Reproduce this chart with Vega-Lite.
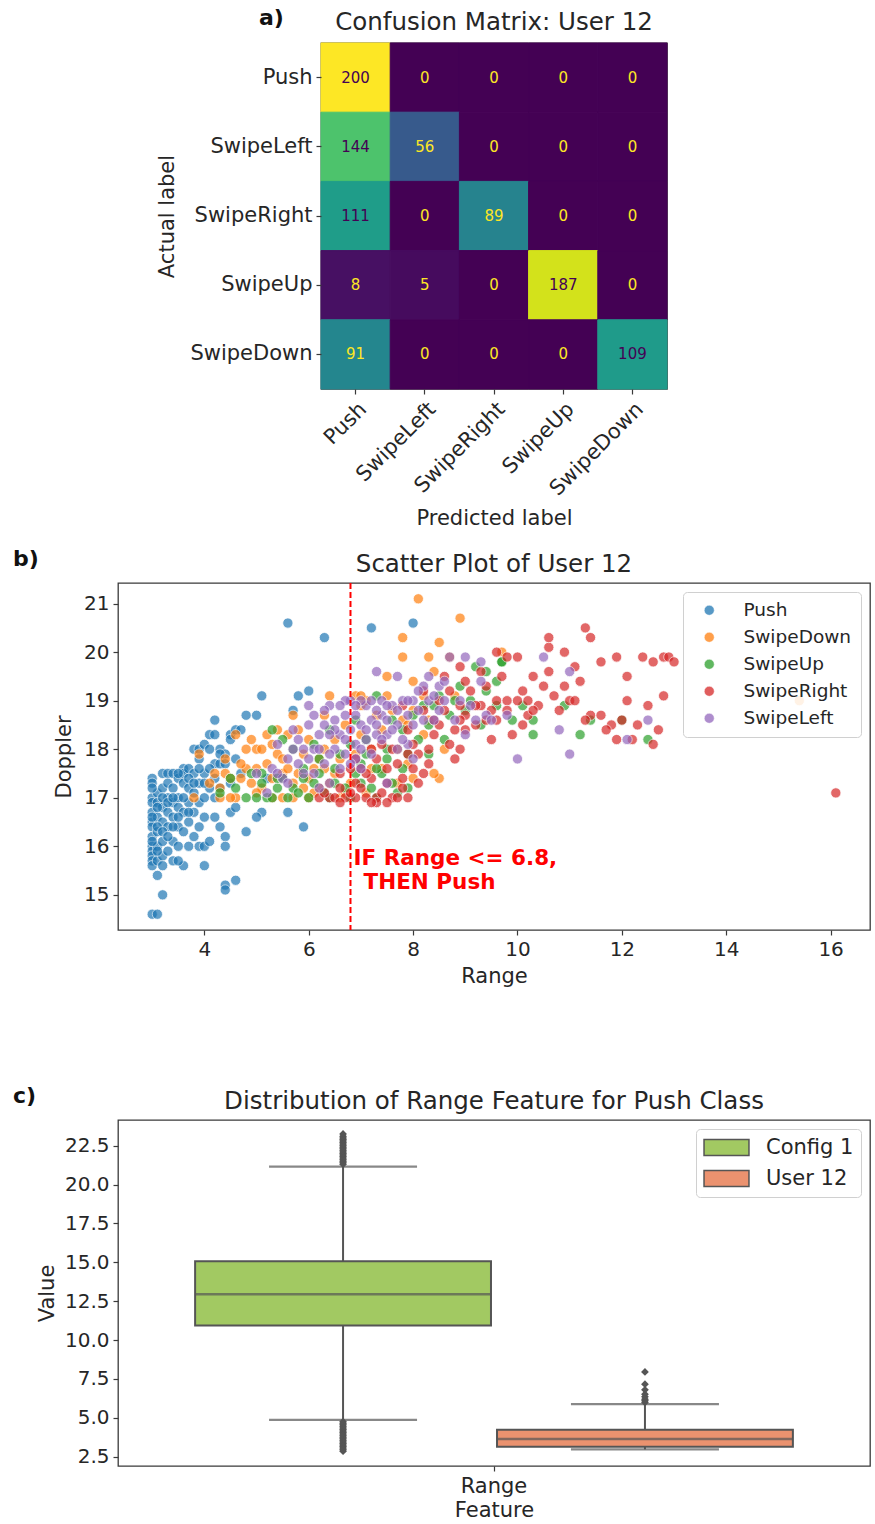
{
"$schema": "https://vega.github.io/schema/vega-lite/v6.json",
"padding": {"left": 12, "top": 6, "right": 5, "bottom": 0},
"config": {
  "font": "DejaVu Sans",
  "view": {"stroke": "#3a3a3a", "strokeWidth": 1.3},
  "axis": {"grid": false, "domain": false, "tickColor": "#3a3a3a", "tickSize": 5, "tickWidth": 1.2, "labelFontSize": 20, "labelColor": "#262626", "titleFontSize": 21, "titleFontWeight": "normal", "titleColor": "#262626", "labelPadding": 4},
  "legend": {"labelColor": "#262626"}
},
"resolve": {"scale": {"color": "independent"}, "legend": {"color": "independent"}},
"spacing": 97,
"vconcat": [
 {
  "spacing": 18,
  "resolve": {"scale": {"color": "independent"}, "legend": {"color": "independent"}},
  "vconcat": [
   {
    "spacing": 0,
    "hconcat": [
     {"width": 38, "height": 10, "view": {"stroke": null}, "data": {"values": [{}]}, "mark": {"type": "text", "text": ""}, "encoding": {}},
     {
      "width": 346, "height": 346,
      "data": {"values": [
        {"Actual": "Push", "Predicted": "Push", "Count": 200},
        {"Actual": "Push", "Predicted": "SwipeLeft", "Count": 0},
        {"Actual": "Push", "Predicted": "SwipeRight", "Count": 0},
        {"Actual": "Push", "Predicted": "SwipeUp", "Count": 0},
        {"Actual": "Push", "Predicted": "SwipeDown", "Count": 0},
        {"Actual": "SwipeLeft", "Predicted": "Push", "Count": 144},
        {"Actual": "SwipeLeft", "Predicted": "SwipeLeft", "Count": 56},
        {"Actual": "SwipeLeft", "Predicted": "SwipeRight", "Count": 0},
        {"Actual": "SwipeLeft", "Predicted": "SwipeUp", "Count": 0},
        {"Actual": "SwipeLeft", "Predicted": "SwipeDown", "Count": 0},
        {"Actual": "SwipeRight", "Predicted": "Push", "Count": 111},
        {"Actual": "SwipeRight", "Predicted": "SwipeLeft", "Count": 0},
        {"Actual": "SwipeRight", "Predicted": "SwipeRight", "Count": 89},
        {"Actual": "SwipeRight", "Predicted": "SwipeUp", "Count": 0},
        {"Actual": "SwipeRight", "Predicted": "SwipeDown", "Count": 0},
        {"Actual": "SwipeUp", "Predicted": "Push", "Count": 8},
        {"Actual": "SwipeUp", "Predicted": "SwipeLeft", "Count": 5},
        {"Actual": "SwipeUp", "Predicted": "SwipeRight", "Count": 0},
        {"Actual": "SwipeUp", "Predicted": "SwipeUp", "Count": 187},
        {"Actual": "SwipeUp", "Predicted": "SwipeDown", "Count": 0},
        {"Actual": "SwipeDown", "Predicted": "Push", "Count": 91},
        {"Actual": "SwipeDown", "Predicted": "SwipeLeft", "Count": 0},
        {"Actual": "SwipeDown", "Predicted": "SwipeRight", "Count": 0},
        {"Actual": "SwipeDown", "Predicted": "SwipeUp", "Count": 0},
        {"Actual": "SwipeDown", "Predicted": "SwipeDown", "Count": 109}
      ]},
      "encoding": {
        "x": {"field": "Predicted", "type": "nominal", "sort": ["Push", "SwipeLeft", "SwipeRight", "SwipeUp", "SwipeDown"], "title": "Predicted label", "axis": {"labelAngle": -45, "labelFontSize": 21, "titlePadding": 8}},
        "y": {"field": "Actual", "type": "nominal", "sort": ["Push", "SwipeLeft", "SwipeRight", "SwipeUp", "SwipeDown"], "title": "Actual label", "axis": {"labelFontSize": 21, "titlePadding": 12}}
      },
      "layer": [
        {"mark": {"type": "rect", "strokeWidth": 1}, "encoding": {
          "color": {"field": "Count", "type": "quantitative", "scale": {"scheme": "viridis", "domain": [0, 200]}, "legend": null},
          "stroke": {"field": "Count", "type": "quantitative", "scale": {"scheme": "viridis", "domain": [0, 200]}, "legend": null}}},
        {"mark": {"type": "text", "fontSize": 15}, "encoding": {"text": {"field": "Count", "type": "quantitative"}, "color": {"condition": {"test": "datum.Count > 100", "value": "#440154"}, "value": "#fde725"}}},
        {"data": {"values": [{}]}, "mark": {"type": "text", "text": "a)", "fontSize": 22, "fontWeight": "bold", "align": "left", "baseline": "middle", "dx": -96.6, "dy": -59.6, "color": "#111"}, "encoding": {"x": {"datum": "Push"}, "y": {"datum": "Push"}}},
        {"data": {"values": [{}]}, "mark": {"type": "text", "text": "Confusion Matrix: User 12", "fontSize": 24.5, "align": "center", "baseline": "middle", "dy": -54.6, "color": "#262626"}, "encoding": {"x": {"datum": "SwipeRight"}, "y": {"datum": "Push"}}}
      ]
     }
    ]
   },
   {
    "width": 752, "height": 347,
    "layer": [
     {
      "data": {"values": [
{"Range":5.6,"Doppler":20.6,"Gesture":"Push"},{"Range":6.3,"Doppler":20.3,"Gesture":"Push"},{"Range":7.2,"Doppler":20.5,"Gesture":"Push"},{"Range":8.0,"Doppler":20.6,"Gesture":"Push"},
{"Range":5.1,"Doppler":19.1,"Gesture":"Push"},{"Range":5.8,"Doppler":19.1,"Gesture":"Push"},{"Range":6.0,"Doppler":19.2,"Gesture":"Push"},{"Range":5.7,"Doppler":18.8,"Gesture":"Push"},
{"Range":4.8,"Doppler":18.7,"Gesture":"Push"},{"Range":5.0,"Doppler":18.7,"Gesture":"Push"},{"Range":4.2,"Doppler":18.6,"Gesture":"Push"},{"Range":5.6,"Doppler":16.7,"Gesture":"Push"},
{"Range":5.9,"Doppler":16.4,"Gesture":"Push"},{"Range":5.1,"Doppler":16.7,"Gesture":"Push"},{"Range":5.0,"Doppler":16.6,"Gesture":"Push"},{"Range":4.8,"Doppler":16.3,"Gesture":"Push"},
{"Range":4.6,"Doppler":15.3,"Gesture":"Push"},{"Range":4.4,"Doppler":15.2,"Gesture":"Push"},{"Range":4.4,"Doppler":15.1,"Gesture":"Push"},{"Range":3.2,"Doppler":15.0,"Gesture":"Push"},
{"Range":3.1,"Doppler":15.4,"Gesture":"Push"},{"Range":3.0,"Doppler":14.6,"Gesture":"Push"},{"Range":3.1,"Doppler":14.6,"Gesture":"Push"},
{"Range":3.0,"Doppler":17.4,"Gesture":"Push"},{"Range":3.0,"Doppler":17.3,"Gesture":"Push"},{"Range":3.0,"Doppler":17.0,"Gesture":"Push"},{"Range":3.0,"Doppler":16.9,"Gesture":"Push"},
{"Range":3.0,"Doppler":16.7,"Gesture":"Push"},{"Range":3.0,"Doppler":16.5,"Gesture":"Push"},{"Range":3.0,"Doppler":16.4,"Gesture":"Push"},{"Range":3.0,"Doppler":16.2,"Gesture":"Push"},
{"Range":3.0,"Doppler":16.0,"Gesture":"Push"},{"Range":3.0,"Doppler":15.9,"Gesture":"Push"},{"Range":3.0,"Doppler":15.8,"Gesture":"Push"},{"Range":3.0,"Doppler":15.7,"Gesture":"Push"},
{"Range":3.0,"Doppler":15.6,"Gesture":"Push"},
{"Range":3.1,"Doppler":17.1,"Gesture":"Push"},{"Range":3.1,"Doppler":16.9,"Gesture":"Push"},{"Range":3.1,"Doppler":16.6,"Gesture":"Push"},{"Range":3.1,"Doppler":16.3,"Gesture":"Push"},
{"Range":3.1,"Doppler":16.0,"Gesture":"Push"},{"Range":3.1,"Doppler":15.7,"Gesture":"Push"},
{"Range":3.2,"Doppler":17.5,"Gesture":"Push"},{"Range":3.2,"Doppler":17.2,"Gesture":"Push"},{"Range":3.2,"Doppler":16.8,"Gesture":"Push"},{"Range":3.2,"Doppler":16.5,"Gesture":"Push"},
{"Range":3.2,"Doppler":16.1,"Gesture":"Push"},{"Range":3.2,"Doppler":15.8,"Gesture":"Push"},{"Range":3.2,"Doppler":15.6,"Gesture":"Push"},
{"Range":3.3,"Doppler":17.5,"Gesture":"Push"},{"Range":3.3,"Doppler":17.3,"Gesture":"Push"},{"Range":3.3,"Doppler":17.0,"Gesture":"Push"},{"Range":3.3,"Doppler":16.7,"Gesture":"Push"},
{"Range":3.3,"Doppler":16.4,"Gesture":"Push"},
{"Range":3.4,"Doppler":17.5,"Gesture":"Push"},{"Range":3.4,"Doppler":17.2,"Gesture":"Push"},{"Range":3.4,"Doppler":16.9,"Gesture":"Push"},{"Range":3.4,"Doppler":16.6,"Gesture":"Push"},
{"Range":3.4,"Doppler":16.1,"Gesture":"Push"},{"Range":3.4,"Doppler":15.7,"Gesture":"Push"},
{"Range":3.5,"Doppler":17.4,"Gesture":"Push"},{"Range":3.5,"Doppler":17.0,"Gesture":"Push"},{"Range":3.5,"Doppler":16.8,"Gesture":"Push"},{"Range":3.5,"Doppler":16.4,"Gesture":"Push"},
{"Range":3.5,"Doppler":16.0,"Gesture":"Push"},
{"Range":3.6,"Doppler":17.6,"Gesture":"Push"},{"Range":3.6,"Doppler":17.5,"Gesture":"Push"},{"Range":3.6,"Doppler":17.3,"Gesture":"Push"},{"Range":3.6,"Doppler":16.7,"Gesture":"Push"},
{"Range":3.6,"Doppler":16.3,"Gesture":"Push"},{"Range":3.6,"Doppler":15.6,"Gesture":"Push"},
{"Range":3.7,"Doppler":17.6,"Gesture":"Push"},{"Range":3.7,"Doppler":17.2,"Gesture":"Push"},{"Range":3.7,"Doppler":16.9,"Gesture":"Push"},{"Range":3.7,"Doppler":16.5,"Gesture":"Push"},
{"Range":3.7,"Doppler":16.0,"Gesture":"Push"},
{"Range":3.8,"Doppler":18.0,"Gesture":"Push"},{"Range":3.8,"Doppler":17.5,"Gesture":"Push"},{"Range":3.8,"Doppler":17.1,"Gesture":"Push"},{"Range":3.8,"Doppler":16.7,"Gesture":"Push"},
{"Range":3.8,"Doppler":16.2,"Gesture":"Push"},
{"Range":3.9,"Doppler":18.0,"Gesture":"Push"},{"Range":3.9,"Doppler":17.8,"Gesture":"Push"},{"Range":3.9,"Doppler":17.3,"Gesture":"Push"},{"Range":3.9,"Doppler":16.9,"Gesture":"Push"},
{"Range":3.9,"Doppler":16.4,"Gesture":"Push"},{"Range":3.9,"Doppler":16.0,"Gesture":"Push"},
{"Range":4.0,"Doppler":18.1,"Gesture":"Push"},{"Range":4.0,"Doppler":17.5,"Gesture":"Push"},{"Range":4.0,"Doppler":17.0,"Gesture":"Push"},{"Range":4.0,"Doppler":16.6,"Gesture":"Push"},
{"Range":4.0,"Doppler":16.0,"Gesture":"Push"},{"Range":4.0,"Doppler":15.6,"Gesture":"Push"},
{"Range":4.1,"Doppler":18.3,"Gesture":"Push"},{"Range":4.1,"Doppler":18.0,"Gesture":"Push"},{"Range":4.1,"Doppler":17.2,"Gesture":"Push"},{"Range":4.1,"Doppler":16.1,"Gesture":"Push"},
{"Range":4.2,"Doppler":18.3,"Gesture":"Push"},{"Range":4.2,"Doppler":17.7,"Gesture":"Push"},{"Range":4.2,"Doppler":17.0,"Gesture":"Push"},{"Range":4.2,"Doppler":16.6,"Gesture":"Push"},
{"Range":4.3,"Doppler":18.0,"Gesture":"Push"},{"Range":4.3,"Doppler":17.7,"Gesture":"Push"},{"Range":4.3,"Doppler":17.2,"Gesture":"Push"},{"Range":4.3,"Doppler":16.4,"Gesture":"Push"},
{"Range":4.4,"Doppler":17.9,"Gesture":"Push"},{"Range":4.4,"Doppler":17.7,"Gesture":"Push"},{"Range":4.4,"Doppler":16.2,"Gesture":"Push"},{"Range":4.4,"Doppler":16.0,"Gesture":"Push"},
{"Range":4.5,"Doppler":18.3,"Gesture":"Push"},{"Range":4.5,"Doppler":18.2,"Gesture":"Push"},{"Range":4.5,"Doppler":16.7,"Gesture":"Push"},{"Range":4.5,"Doppler":17.3,"Gesture":"Push"},
{"Range":4.6,"Doppler":18.4,"Gesture":"Push"},{"Range":4.6,"Doppler":17.8,"Gesture":"Push"},{"Range":4.6,"Doppler":16.8,"Gesture":"Push"},
{"Range":4.7,"Doppler":18.4,"Gesture":"Push"},{"Range":4.7,"Doppler":17.5,"Gesture":"Push"},{"Range":5.2,"Doppler":17.4,"Gesture":"Push"},
{"Range":3.0,"Doppler":17.2,"Gesture":"Push"},{"Range":3.0,"Doppler":16.6,"Gesture":"Push"},{"Range":3.0,"Doppler":16.1,"Gesture":"Push"},{"Range":3.1,"Doppler":16.8,"Gesture":"Push"},
{"Range":3.1,"Doppler":16.4,"Gesture":"Push"},{"Range":3.1,"Doppler":15.9,"Gesture":"Push"},{"Range":3.2,"Doppler":17.0,"Gesture":"Push"},{"Range":3.2,"Doppler":16.3,"Gesture":"Push"},
{"Range":3.3,"Doppler":16.9,"Gesture":"Push"},{"Range":3.3,"Doppler":16.2,"Gesture":"Push"},{"Range":3.4,"Doppler":17.0,"Gesture":"Push"},{"Range":3.4,"Doppler":16.4,"Gesture":"Push"},
{"Range":3.5,"Doppler":17.5,"Gesture":"Push"},{"Range":3.5,"Doppler":16.6,"Gesture":"Push"},{"Range":3.6,"Doppler":17.0,"Gesture":"Push"},{"Range":3.7,"Doppler":17.4,"Gesture":"Push"},
{"Range":3.7,"Doppler":16.7,"Gesture":"Push"},{"Range":3.8,"Doppler":17.3,"Gesture":"Push"},{"Range":3.9,"Doppler":17.6,"Gesture":"Push"},{"Range":4.0,"Doppler":17.3,"Gesture":"Push"},
{"Range":4.1,"Doppler":17.6,"Gesture":"Push"},{"Range":4.2,"Doppler":17.4,"Gesture":"Push"},{"Range":4.3,"Doppler":17.9,"Gesture":"Push"},{"Range":3.3,"Doppler":15.9,"Gesture":"Push"},
{"Range":3.5,"Doppler":15.7,"Gesture":"Push"},
{"Range":8.1,"Doppler":21.1,"Gesture":"SwipeDown"},{"Range":8.9,"Doppler":20.7,"Gesture":"SwipeDown"},{"Range":7.8,"Doppler":20.3,"Gesture":"SwipeDown"},{"Range":8.5,"Doppler":20.2,"Gesture":"SwipeDown"},
{"Range":7.8,"Doppler":19.9,"Gesture":"SwipeDown"},{"Range":8.3,"Doppler":19.9,"Gesture":"SwipeDown"},{"Range":8.7,"Doppler":19.9,"Gesture":"SwipeDown"},{"Range":9.7,"Doppler":20.0,"Gesture":"SwipeDown"},
{"Range":8.0,"Doppler":19.4,"Gesture":"SwipeDown"},{"Range":8.4,"Doppler":19.6,"Gesture":"SwipeDown"},{"Range":7.5,"Doppler":19.5,"Gesture":"SwipeDown"},{"Range":8.6,"Doppler":18.0,"Gesture":"SwipeDown"},
{"Range":8.5,"Doppler":17.4,"Gesture":"SwipeDown"},{"Range":8.0,"Doppler":17.4,"Gesture":"SwipeDown"},{"Range":3.8,"Doppler":17.0,"Gesture":"SwipeDown"},{"Range":4.3,"Doppler":17.0,"Gesture":"SwipeDown"},
{"Range":4.6,"Doppler":17.0,"Gesture":"SwipeDown"},{"Range":3.9,"Doppler":17.9,"Gesture":"SwipeDown"},{"Range":4.6,"Doppler":18.3,"Gesture":"SwipeDown"},{"Range":15.4,"Doppler":19.0,"Gesture":"SwipeDown"},
{"Range":6.4,"Doppler":19.1,"Gesture":"SwipeDown"},{"Range":6.9,"Doppler":19.1,"Gesture":"SwipeDown"},{"Range":7.5,"Doppler":19.1,"Gesture":"SwipeDown"},{"Range":7.0,"Doppler":18.9,"Gesture":"SwipeDown"},
{"Range":7.8,"Doppler":18.6,"Gesture":"SwipeDown"},{"Range":7.2,"Doppler":18.0,"Gesture":"SwipeDown"},{"Range":6.3,"Doppler":17.6,"Gesture":"SwipeDown"},{"Range":6.5,"Doppler":17.5,"Gesture":"SwipeDown"},
{"Range":5.0,"Doppler":18.0,"Gesture":"SwipeDown"},{"Range":5.1,"Doppler":18.0,"Gesture":"SwipeDown"},{"Range":5.3,"Doppler":18.1,"Gesture":"SwipeDown"},{"Range":5.4,"Doppler":17.9,"Gesture":"SwipeDown"},
{"Range":5.2,"Doppler":17.7,"Gesture":"SwipeDown"},{"Range":5.5,"Doppler":17.8,"Gesture":"SwipeDown"},{"Range":5.6,"Doppler":18.3,"Gesture":"SwipeDown"},{"Range":5.8,"Doppler":18.4,"Gesture":"SwipeDown"},
{"Range":6.0,"Doppler":18.2,"Gesture":"SwipeDown"},{"Range":5.9,"Doppler":17.9,"Gesture":"SwipeDown"},{"Range":4.4,"Doppler":17.5,"Gesture":"SwipeDown"},{"Range":4.5,"Doppler":17.4,"Gesture":"SwipeDown"},
{"Range":4.7,"Doppler":17.4,"Gesture":"SwipeDown"},{"Range":4.9,"Doppler":17.3,"Gesture":"SwipeDown"},{"Range":5.1,"Doppler":17.2,"Gesture":"SwipeDown"},{"Range":5.3,"Doppler":17.4,"Gesture":"SwipeDown"},
{"Range":4.8,"Doppler":17.6,"Gesture":"SwipeDown"},{"Range":4.3,"Doppler":17.2,"Gesture":"SwipeDown"},{"Range":4.1,"Doppler":17.3,"Gesture":"SwipeDown"},{"Range":5.5,"Doppler":17.0,"Gesture":"SwipeDown"},
{"Range":5.7,"Doppler":17.0,"Gesture":"SwipeDown"},{"Range":6.0,"Doppler":17.0,"Gesture":"SwipeDown"},{"Range":6.2,"Doppler":17.2,"Gesture":"SwipeDown"},{"Range":6.4,"Doppler":17.3,"Gesture":"SwipeDown"},
{"Range":6.6,"Doppler":17.0,"Gesture":"SwipeDown"},{"Range":6.8,"Doppler":17.3,"Gesture":"SwipeDown"},{"Range":5.8,"Doppler":17.5,"Gesture":"SwipeDown"},{"Range":6.1,"Doppler":17.6,"Gesture":"SwipeDown"},
{"Range":6.6,"Doppler":17.8,"Gesture":"SwipeDown"},{"Range":7.0,"Doppler":18.3,"Gesture":"SwipeDown"},{"Range":7.3,"Doppler":18.7,"Gesture":"SwipeDown"},{"Range":7.6,"Doppler":18.8,"Gesture":"SwipeDown"},
{"Range":7.9,"Doppler":18.5,"Gesture":"SwipeDown"},{"Range":8.2,"Doppler":18.3,"Gesture":"SwipeDown"},{"Range":7.4,"Doppler":17.6,"Gesture":"SwipeDown"},{"Range":7.7,"Doppler":17.3,"Gesture":"SwipeDown"},
{"Range":7.1,"Doppler":17.1,"Gesture":"SwipeDown"},{"Range":4.9,"Doppler":18.2,"Gesture":"SwipeDown"},{"Range":5.7,"Doppler":18.7,"Gesture":"SwipeDown"},{"Range":6.3,"Doppler":18.7,"Gesture":"SwipeDown"},
{"Range":7.1,"Doppler":19.0,"Gesture":"SwipeDown"},{"Range":8.2,"Doppler":19.1,"Gesture":"SwipeDown"},{"Range":7.0,"Doppler":19.1,"Gesture":"SwipeDown"},
{"Range":4.2,"Doppler":17.5,"Gesture":"SwipeDown"},{"Range":4.4,"Doppler":17.8,"Gesture":"SwipeDown"},{"Range":4.5,"Doppler":17.0,"Gesture":"SwipeDown"},{"Range":4.7,"Doppler":17.7,"Gesture":"SwipeDown"},
{"Range":4.8,"Doppler":18.0,"Gesture":"SwipeDown"},{"Range":5.0,"Doppler":17.6,"Gesture":"SwipeDown"},{"Range":5.2,"Doppler":18.3,"Gesture":"SwipeDown"},{"Range":5.4,"Doppler":18.4,"Gesture":"SwipeDown"},
{"Range":5.5,"Doppler":17.5,"Gesture":"SwipeDown"},{"Range":5.6,"Doppler":17.6,"Gesture":"SwipeDown"},{"Range":5.7,"Doppler":17.3,"Gesture":"SwipeDown"},{"Range":5.9,"Doppler":17.2,"Gesture":"SwipeDown"},
{"Range":6.0,"Doppler":17.4,"Gesture":"SwipeDown"},{"Range":6.1,"Doppler":17.1,"Gesture":"SwipeDown"},{"Range":6.2,"Doppler":17.8,"Gesture":"SwipeDown"},{"Range":6.3,"Doppler":18.0,"Gesture":"SwipeDown"},
{"Range":6.5,"Doppler":18.2,"Gesture":"SwipeDown"},{"Range":6.7,"Doppler":18.5,"Gesture":"SwipeDown"},{"Range":6.9,"Doppler":17.9,"Gesture":"SwipeDown"},{"Range":7.2,"Doppler":17.6,"Gesture":"SwipeDown"},
{"Range":7.4,"Doppler":18.4,"Gesture":"SwipeDown"},{"Range":7.7,"Doppler":18.0,"Gesture":"SwipeDown"},{"Range":8.0,"Doppler":18.8,"Gesture":"SwipeDown"},{"Range":8.3,"Doppler":18.6,"Gesture":"SwipeDown"},
{"Range":8.4,"Doppler":17.5,"Gesture":"SwipeDown"},{"Range":5.3,"Doppler":17.0,"Gesture":"SwipeDown"},{"Range":5.0,"Doppler":17.1,"Gesture":"SwipeDown"},{"Range":6.7,"Doppler":17.1,"Gesture":"SwipeDown"},
{"Range":7.9,"Doppler":17.7,"Gesture":"SwipeDown"},{"Range":8.8,"Doppler":19.1,"Gesture":"SwipeDown"},
{"Range":4.5,"Doppler":17.4,"Gesture":"SwipeUp"},{"Range":4.3,"Doppler":17.1,"Gesture":"SwipeUp"},{"Range":4.9,"Doppler":17.5,"Gesture":"SwipeUp"},{"Range":5.0,"Doppler":17.0,"Gesture":"SwipeUp"},
{"Range":5.2,"Doppler":17.0,"Gesture":"SwipeUp"},{"Range":5.4,"Doppler":17.2,"Gesture":"SwipeUp"},{"Range":5.6,"Doppler":17.0,"Gesture":"SwipeUp"},{"Range":5.7,"Doppler":17.2,"Gesture":"SwipeUp"},
{"Range":5.4,"Doppler":17.4,"Gesture":"SwipeUp"},{"Range":5.1,"Doppler":17.5,"Gesture":"SwipeUp"},{"Range":5.3,"Doppler":18.4,"Gesture":"SwipeUp"},{"Range":5.5,"Doppler":18.2,"Gesture":"SwipeUp"},
{"Range":5.9,"Doppler":17.6,"Gesture":"SwipeUp"},{"Range":6.1,"Doppler":17.3,"Gesture":"SwipeUp"},{"Range":6.3,"Doppler":17.1,"Gesture":"SwipeUp"},{"Range":6.5,"Doppler":17.3,"Gesture":"SwipeUp"},
{"Range":6.7,"Doppler":17.2,"Gesture":"SwipeUp"},{"Range":6.2,"Doppler":17.8,"Gesture":"SwipeUp"},{"Range":6.6,"Doppler":17.9,"Gesture":"SwipeUp"},{"Range":6.9,"Doppler":17.5,"Gesture":"SwipeUp"},
{"Range":7.0,"Doppler":17.7,"Gesture":"SwipeUp"},{"Range":7.2,"Doppler":17.2,"Gesture":"SwipeUp"},{"Range":7.3,"Doppler":17.0,"Gesture":"SwipeUp"},{"Range":7.4,"Doppler":17.5,"Gesture":"SwipeUp"},
{"Range":7.6,"Doppler":17.3,"Gesture":"SwipeUp"},{"Range":7.8,"Doppler":17.6,"Gesture":"SwipeUp"},{"Range":7.9,"Doppler":17.2,"Gesture":"SwipeUp"},{"Range":7.1,"Doppler":18.2,"Gesture":"SwipeUp"},
{"Range":7.5,"Doppler":18.0,"Gesture":"SwipeUp"},{"Range":7.8,"Doppler":18.4,"Gesture":"SwipeUp"},{"Range":8.0,"Doppler":18.7,"Gesture":"SwipeUp"},{"Range":8.2,"Doppler":18.9,"Gesture":"SwipeUp"},
{"Range":8.5,"Doppler":19.1,"Gesture":"SwipeUp"},{"Range":8.8,"Doppler":19.0,"Gesture":"SwipeUp"},{"Range":8.9,"Doppler":19.3,"Gesture":"SwipeUp"},{"Range":9.2,"Doppler":19.7,"Gesture":"SwipeUp"},
{"Range":9.4,"Doppler":19.6,"Gesture":"SwipeUp"},{"Range":9.7,"Doppler":19.8,"Gesture":"SwipeUp"},{"Range":9.0,"Doppler":18.8,"Gesture":"SwipeUp"},{"Range":9.6,"Doppler":18.9,"Gesture":"SwipeUp"},
{"Range":10.1,"Doppler":18.9,"Gesture":"SwipeUp"},{"Range":10.3,"Doppler":18.6,"Gesture":"SwipeUp"},{"Range":10.3,"Doppler":18.3,"Gesture":"SwipeUp"},{"Range":10.9,"Doppler":18.9,"Gesture":"SwipeUp"},
{"Range":11.2,"Doppler":18.3,"Gesture":"SwipeUp"},{"Range":11.4,"Doppler":18.6,"Gesture":"SwipeUp"},{"Range":12.5,"Doppler":18.2,"Gesture":"SwipeUp"},{"Range":12.0,"Doppler":18.6,"Gesture":"SwipeUp"},
{"Range":7.3,"Doppler":19.1,"Gesture":"SwipeUp"},{"Range":6.9,"Doppler":18.6,"Gesture":"SwipeUp"},{"Range":8.6,"Doppler":18.2,"Gesture":"SwipeUp"},{"Range":9.3,"Doppler":18.5,"Gesture":"SwipeUp"},
{"Range":8.3,"Doppler":17.9,"Gesture":"SwipeUp"},{"Range":6.4,"Doppler":18.4,"Gesture":"SwipeUp"},{"Range":9.7,"Doppler":19.8,"Gesture":"SwipeUp"},
{"Range":4.6,"Doppler":17.2,"Gesture":"SwipeUp"},{"Range":4.8,"Doppler":17.0,"Gesture":"SwipeUp"},{"Range":5.1,"Doppler":17.3,"Gesture":"SwipeUp"},{"Range":5.3,"Doppler":17.0,"Gesture":"SwipeUp"},
{"Range":5.5,"Doppler":17.4,"Gesture":"SwipeUp"},{"Range":5.8,"Doppler":17.1,"Gesture":"SwipeUp"},{"Range":5.9,"Doppler":17.4,"Gesture":"SwipeUp"},{"Range":6.0,"Doppler":17.0,"Gesture":"SwipeUp"},
{"Range":6.2,"Doppler":17.5,"Gesture":"SwipeUp"},{"Range":6.4,"Doppler":17.0,"Gesture":"SwipeUp"},{"Range":6.5,"Doppler":17.6,"Gesture":"SwipeUp"},{"Range":6.8,"Doppler":17.0,"Gesture":"SwipeUp"},
{"Range":7.0,"Doppler":17.3,"Gesture":"SwipeUp"},{"Range":7.1,"Doppler":17.9,"Gesture":"SwipeUp"},{"Range":7.3,"Doppler":17.6,"Gesture":"SwipeUp"},{"Range":7.5,"Doppler":17.8,"Gesture":"SwipeUp"},
{"Range":7.7,"Doppler":17.1,"Gesture":"SwipeUp"},{"Range":7.9,"Doppler":17.9,"Gesture":"SwipeUp"},{"Range":8.1,"Doppler":18.2,"Gesture":"SwipeUp"},{"Range":8.3,"Doppler":18.5,"Gesture":"SwipeUp"},
{"Range":8.4,"Doppler":18.9,"Gesture":"SwipeUp"},{"Range":8.7,"Doppler":18.7,"Gesture":"SwipeUp"},{"Range":9.1,"Doppler":19.0,"Gesture":"SwipeUp"},{"Range":9.4,"Doppler":19.2,"Gesture":"SwipeUp"},
{"Range":9.6,"Doppler":19.4,"Gesture":"SwipeUp"},{"Range":9.9,"Doppler":18.6,"Gesture":"SwipeUp"},{"Range":7.6,"Doppler":18.6,"Gesture":"SwipeUp"},{"Range":6.8,"Doppler":18.1,"Gesture":"SwipeUp"},
{"Range":5.7,"Doppler":18.0,"Gesture":"SwipeUp"},{"Range":6.1,"Doppler":18.1,"Gesture":"SwipeUp"},
{"Range":6.2,"Doppler":17.0,"Gesture":"SwipeRight"},{"Range":6.4,"Doppler":17.0,"Gesture":"SwipeRight"},{"Range":6.5,"Doppler":17.0,"Gesture":"SwipeRight"},{"Range":6.7,"Doppler":17.0,"Gesture":"SwipeRight"},
{"Range":6.9,"Doppler":17.0,"Gesture":"SwipeRight"},{"Range":7.1,"Doppler":17.0,"Gesture":"SwipeRight"},{"Range":7.3,"Doppler":17.0,"Gesture":"SwipeRight"},{"Range":7.6,"Doppler":17.0,"Gesture":"SwipeRight"},
{"Range":7.9,"Doppler":17.0,"Gesture":"SwipeRight"},{"Range":7.3,"Doppler":16.9,"Gesture":"SwipeRight"},{"Range":6.6,"Doppler":17.2,"Gesture":"SwipeRight"},{"Range":6.9,"Doppler":17.3,"Gesture":"SwipeRight"},
{"Range":7.2,"Doppler":17.4,"Gesture":"SwipeRight"},{"Range":7.5,"Doppler":17.3,"Gesture":"SwipeRight"},{"Range":7.8,"Doppler":17.2,"Gesture":"SwipeRight"},{"Range":8.1,"Doppler":17.3,"Gesture":"SwipeRight"},
{"Range":8.3,"Doppler":17.7,"Gesture":"SwipeRight"},{"Range":8.1,"Doppler":17.9,"Gesture":"SwipeRight"},{"Range":7.7,"Doppler":17.7,"Gesture":"SwipeRight"},{"Range":7.3,"Doppler":17.8,"Gesture":"SwipeRight"},
{"Range":7.0,"Doppler":17.6,"Gesture":"SwipeRight"},{"Range":7.5,"Doppler":17.6,"Gesture":"SwipeRight"},{"Range":8.4,"Doppler":18.3,"Gesture":"SwipeRight"},{"Range":8.0,"Doppler":18.1,"Gesture":"SwipeRight"},
{"Range":8.6,"Doppler":18.8,"Gesture":"SwipeRight"},{"Range":8.8,"Doppler":18.4,"Gesture":"SwipeRight"},{"Range":8.9,"Doppler":18.0,"Gesture":"SwipeRight"},{"Range":9.0,"Doppler":18.7,"Gesture":"SwipeRight"},
{"Range":9.2,"Doppler":18.5,"Gesture":"SwipeRight"},{"Range":9.3,"Doppler":18.9,"Gesture":"SwipeRight"},{"Range":9.5,"Doppler":18.8,"Gesture":"SwipeRight"},{"Range":9.1,"Doppler":19.2,"Gesture":"SwipeRight"},
{"Range":9.4,"Doppler":19.3,"Gesture":"SwipeRight"},{"Range":9.6,"Doppler":19.0,"Gesture":"SwipeRight"},{"Range":9.8,"Doppler":19.0,"Gesture":"SwipeRight"},{"Range":10.0,"Doppler":19.0,"Gesture":"SwipeRight"},
{"Range":10.2,"Doppler":18.7,"Gesture":"SwipeRight"},{"Range":10.4,"Doppler":18.9,"Gesture":"SwipeRight"},{"Range":10.5,"Doppler":19.3,"Gesture":"SwipeRight"},{"Range":10.7,"Doppler":19.1,"Gesture":"SwipeRight"},
{"Range":10.8,"Doppler":18.8,"Gesture":"SwipeRight"},{"Range":11.0,"Doppler":19.0,"Gesture":"SwipeRight"},{"Range":11.2,"Doppler":19.4,"Gesture":"SwipeRight"},{"Range":11.4,"Doppler":18.7,"Gesture":"SwipeRight"},
{"Range":11.6,"Doppler":18.7,"Gesture":"SwipeRight"},{"Range":11.8,"Doppler":18.5,"Gesture":"SwipeRight"},{"Range":10.0,"Doppler":19.9,"Gesture":"SwipeRight"},{"Range":10.6,"Doppler":20.1,"Gesture":"SwipeRight"},
{"Range":11.1,"Doppler":19.7,"Gesture":"SwipeRight"},{"Range":11.3,"Doppler":20.5,"Gesture":"SwipeRight"},{"Range":10.3,"Doppler":19.5,"Gesture":"SwipeRight"},{"Range":10.9,"Doppler":20.0,"Gesture":"SwipeRight"},
{"Range":11.6,"Doppler":19.8,"Gesture":"SwipeRight"},{"Range":11.9,"Doppler":19.9,"Gesture":"SwipeRight"},{"Range":12.1,"Doppler":19.5,"Gesture":"SwipeRight"},{"Range":12.1,"Doppler":19.0,"Gesture":"SwipeRight"},
{"Range":12.4,"Doppler":19.9,"Gesture":"SwipeRight"},{"Range":12.6,"Doppler":19.8,"Gesture":"SwipeRight"},{"Range":12.8,"Doppler":19.9,"Gesture":"SwipeRight"},{"Range":12.9,"Doppler":19.9,"Gesture":"SwipeRight"},
{"Range":13.0,"Doppler":19.8,"Gesture":"SwipeRight"},{"Range":12.8,"Doppler":19.1,"Gesture":"SwipeRight"},{"Range":12.5,"Doppler":18.9,"Gesture":"SwipeRight"},{"Range":12.3,"Doppler":18.5,"Gesture":"SwipeRight"},
{"Range":11.9,"Doppler":18.2,"Gesture":"SwipeRight"},{"Range":12.2,"Doppler":18.2,"Gesture":"SwipeRight"},{"Range":12.0,"Doppler":18.6,"Gesture":"SwipeRight"},{"Range":10.6,"Doppler":20.3,"Gesture":"SwipeRight"},
{"Range":11.4,"Doppler":20.3,"Gesture":"SwipeRight"},{"Range":9.6,"Doppler":20.0,"Gesture":"SwipeRight"},{"Range":9.8,"Doppler":19.9,"Gesture":"SwipeRight"},{"Range":8.6,"Doppler":19.5,"Gesture":"SwipeRight"},
{"Range":8.9,"Doppler":19.7,"Gesture":"SwipeRight"},{"Range":9.3,"Doppler":19.6,"Gesture":"SwipeRight"},{"Range":8.2,"Doppler":19.2,"Gesture":"SwipeRight"},{"Range":7.8,"Doppler":18.9,"Gesture":"SwipeRight"},
{"Range":8.4,"Doppler":18.6,"Gesture":"SwipeRight"},{"Range":8.9,"Doppler":18.6,"Gesture":"SwipeRight"},{"Range":9.5,"Doppler":18.2,"Gesture":"SwipeRight"},{"Range":9.9,"Doppler":18.3,"Gesture":"SwipeRight"},
{"Range":8.8,"Doppler":17.8,"Gesture":"SwipeRight"},{"Range":7.4,"Doppler":18.1,"Gesture":"SwipeRight"},{"Range":6.9,"Doppler":17.8,"Gesture":"SwipeRight"},{"Range":6.6,"Doppler":17.5,"Gesture":"SwipeRight"},
{"Range":16.1,"Doppler":17.1,"Gesture":"SwipeRight"},{"Range":10.1,"Doppler":18.5,"Gesture":"SwipeRight"},{"Range":11.7,"Doppler":18.4,"Gesture":"SwipeRight"},{"Range":12.6,"Doppler":18.1,"Gesture":"SwipeRight"},
{"Range":12.7,"Doppler":18.4,"Gesture":"SwipeRight"},{"Range":9.7,"Doppler":19.5,"Gesture":"SwipeRight"},{"Range":10.2,"Doppler":19.0,"Gesture":"SwipeRight"},{"Range":11.3,"Doppler":18.6,"Gesture":"SwipeRight"},
{"Range":6.3,"Doppler":17.1,"Gesture":"SwipeRight"},{"Range":6.6,"Doppler":16.9,"Gesture":"SwipeRight"},{"Range":6.8,"Doppler":17.1,"Gesture":"SwipeRight"},{"Range":7.0,"Doppler":17.2,"Gesture":"SwipeRight"},
{"Range":7.2,"Doppler":16.9,"Gesture":"SwipeRight"},{"Range":7.4,"Doppler":17.1,"Gesture":"SwipeRight"},{"Range":7.5,"Doppler":16.9,"Gesture":"SwipeRight"},{"Range":7.7,"Doppler":17.0,"Gesture":"SwipeRight"},
{"Range":7.8,"Doppler":17.4,"Gesture":"SwipeRight"},{"Range":8.0,"Doppler":17.6,"Gesture":"SwipeRight"},{"Range":8.2,"Doppler":17.5,"Gesture":"SwipeRight"},{"Range":7.9,"Doppler":17.9,"Gesture":"SwipeRight"},
{"Range":7.6,"Doppler":18.0,"Gesture":"SwipeRight"},{"Range":7.2,"Doppler":18.0,"Gesture":"SwipeRight"},{"Range":8.3,"Doppler":18.0,"Gesture":"SwipeRight"},{"Range":8.5,"Doppler":18.5,"Gesture":"SwipeRight"},
{"Range":8.7,"Doppler":18.1,"Gesture":"SwipeRight"},{"Range":8.9,"Doppler":18.9,"Gesture":"SwipeRight"},{"Range":9.0,"Doppler":18.4,"Gesture":"SwipeRight"},{"Range":9.2,"Doppler":18.9,"Gesture":"SwipeRight"},
{"Range":9.4,"Doppler":18.6,"Gesture":"SwipeRight"},{"Range":9.6,"Doppler":18.6,"Gesture":"SwipeRight"},{"Range":9.8,"Doppler":18.8,"Gesture":"SwipeRight"},{"Range":10.1,"Doppler":19.2,"Gesture":"SwipeRight"},
{"Range":10.3,"Doppler":18.8,"Gesture":"SwipeRight"},{"Range":10.6,"Doppler":19.6,"Gesture":"SwipeRight"},{"Range":10.9,"Doppler":19.3,"Gesture":"SwipeRight"},{"Range":11.1,"Doppler":19.0,"Gesture":"SwipeRight"},
{"Range":9.0,"Doppler":19.4,"Gesture":"SwipeRight"},{"Range":8.7,"Doppler":19.2,"Gesture":"SwipeRight"},{"Range":8.5,"Doppler":19.0,"Gesture":"SwipeRight"},{"Range":7.9,"Doppler":18.4,"Gesture":"SwipeRight"},
{"Range":8.2,"Doppler":18.8,"Gesture":"SwipeRight"},{"Range":6.8,"Doppler":17.6,"Gesture":"SwipeRight"},{"Range":7.1,"Doppler":17.5,"Gesture":"SwipeRight"},
{"Range":5.5,"Doppler":17.4,"Gesture":"SwipeLeft"},{"Range":5.3,"Doppler":17.6,"Gesture":"SwipeLeft"},{"Range":5.6,"Doppler":17.8,"Gesture":"SwipeLeft"},{"Range":5.4,"Doppler":18.1,"Gesture":"SwipeLeft"},
{"Range":5.8,"Doppler":18.2,"Gesture":"SwipeLeft"},{"Range":5.9,"Doppler":17.5,"Gesture":"SwipeLeft"},{"Range":6.0,"Doppler":17.8,"Gesture":"SwipeLeft"},{"Range":6.1,"Doppler":18.0,"Gesture":"SwipeLeft"},
{"Range":6.2,"Doppler":18.3,"Gesture":"SwipeLeft"},{"Range":6.3,"Doppler":18.5,"Gesture":"SwipeLeft"},{"Range":6.4,"Doppler":18.9,"Gesture":"SwipeLeft"},{"Range":6.5,"Doppler":18.6,"Gesture":"SwipeLeft"},
{"Range":6.3,"Doppler":17.7,"Gesture":"SwipeLeft"},{"Range":6.4,"Doppler":17.3,"Gesture":"SwipeLeft"},{"Range":6.5,"Doppler":18.0,"Gesture":"SwipeLeft"},{"Range":6.6,"Doppler":18.3,"Gesture":"SwipeLeft"},
{"Range":6.7,"Doppler":18.7,"Gesture":"SwipeLeft"},{"Range":6.8,"Doppler":19.0,"Gesture":"SwipeLeft"},{"Range":6.8,"Doppler":18.4,"Gesture":"SwipeLeft"},{"Range":6.9,"Doppler":18.1,"Gesture":"SwipeLeft"},
{"Range":6.9,"Doppler":17.8,"Gesture":"SwipeLeft"},{"Range":7.0,"Doppler":18.5,"Gesture":"SwipeLeft"},{"Range":7.1,"Doppler":18.9,"Gesture":"SwipeLeft"},{"Range":7.2,"Doppler":18.6,"Gesture":"SwipeLeft"},
{"Range":7.3,"Doppler":18.3,"Gesture":"SwipeLeft"},{"Range":7.4,"Doppler":18.7,"Gesture":"SwipeLeft"},{"Range":7.4,"Doppler":19.0,"Gesture":"SwipeLeft"},{"Range":7.6,"Doppler":18.9,"Gesture":"SwipeLeft"},
{"Range":7.7,"Doppler":18.5,"Gesture":"SwipeLeft"},{"Range":7.8,"Doppler":19.0,"Gesture":"SwipeLeft"},{"Range":7.9,"Doppler":18.7,"Gesture":"SwipeLeft"},{"Range":8.0,"Doppler":19.0,"Gesture":"SwipeLeft"},
{"Range":8.1,"Doppler":18.8,"Gesture":"SwipeLeft"},{"Range":8.2,"Doppler":19.3,"Gesture":"SwipeLeft"},{"Range":8.3,"Doppler":19.5,"Gesture":"SwipeLeft"},{"Range":8.3,"Doppler":19.0,"Gesture":"SwipeLeft"},
{"Range":8.5,"Doppler":19.3,"Gesture":"SwipeLeft"},{"Range":8.4,"Doppler":18.6,"Gesture":"SwipeLeft"},{"Range":8.6,"Doppler":19.0,"Gesture":"SwipeLeft"},{"Range":7.1,"Doppler":18.2,"Gesture":"SwipeLeft"},
{"Range":7.5,"Doppler":18.3,"Gesture":"SwipeLeft"},{"Range":7.7,"Doppler":18.0,"Gesture":"SwipeLeft"},{"Range":6.1,"Doppler":18.7,"Gesture":"SwipeLeft"},{"Range":5.7,"Doppler":18.4,"Gesture":"SwipeLeft"},
{"Range":5.2,"Doppler":17.1,"Gesture":"SwipeLeft"},{"Range":6.6,"Doppler":17.6,"Gesture":"SwipeLeft"},{"Range":7.0,"Doppler":17.6,"Gesture":"SwipeLeft"},{"Range":7.5,"Doppler":17.3,"Gesture":"SwipeLeft"},
{"Range":8.0,"Doppler":17.8,"Gesture":"SwipeLeft"},{"Range":8.7,"Doppler":19.9,"Gesture":"SwipeLeft"},{"Range":9.3,"Doppler":19.8,"Gesture":"SwipeLeft"},{"Range":7.3,"Doppler":19.6,"Gesture":"SwipeLeft"},
{"Range":7.7,"Doppler":19.5,"Gesture":"SwipeLeft"},{"Range":9.0,"Doppler":18.3,"Gesture":"SwipeLeft"},{"Range":9.4,"Doppler":18.7,"Gesture":"SwipeLeft"},{"Range":9.3,"Doppler":19.4,"Gesture":"SwipeLeft"},
{"Range":9.5,"Doppler":18.6,"Gesture":"SwipeLeft"},{"Range":10.0,"Doppler":17.8,"Gesture":"SwipeLeft"},{"Range":10.5,"Doppler":19.9,"Gesture":"SwipeLeft"},{"Range":11.0,"Doppler":19.6,"Gesture":"SwipeLeft"},
{"Range":10.8,"Doppler":18.4,"Gesture":"SwipeLeft"},{"Range":11.0,"Doppler":17.9,"Gesture":"SwipeLeft"},{"Range":12.5,"Doppler":18.6,"Gesture":"SwipeLeft"},{"Range":12.1,"Doppler":18.2,"Gesture":"SwipeLeft"},
{"Range":9.8,"Doppler":18.7,"Gesture":"SwipeLeft"},{"Range":6.2,"Doppler":17.2,"Gesture":"SwipeLeft"},{"Range":7.9,"Doppler":18.1,"Gesture":"SwipeLeft"},{"Range":8.8,"Doppler":18.6,"Gesture":"SwipeLeft"},
{"Range":5.0,"Doppler":17.5,"Gesture":"SwipeLeft"},{"Range":6.0,"Doppler":18.9,"Gesture":"SwipeLeft"},{"Range":6.7,"Doppler":19.0,"Gesture":"SwipeLeft"},{"Range":7.2,"Doppler":19.0,"Gesture":"SwipeLeft"},
{"Range":9.0,"Doppler":19.9,"Gesture":"SwipeLeft"},
{"Range":5.6,"Doppler":17.3,"Gesture":"SwipeLeft"},{"Range":5.8,"Doppler":17.7,"Gesture":"SwipeLeft"},{"Range":5.9,"Doppler":18.0,"Gesture":"SwipeLeft"},{"Range":6.0,"Doppler":18.5,"Gesture":"SwipeLeft"},
{"Range":6.1,"Doppler":17.5,"Gesture":"SwipeLeft"},{"Range":6.2,"Doppler":18.0,"Gesture":"SwipeLeft"},{"Range":6.3,"Doppler":18.8,"Gesture":"SwipeLeft"},{"Range":6.4,"Doppler":17.9,"Gesture":"SwipeLeft"},
{"Range":6.5,"Doppler":18.4,"Gesture":"SwipeLeft"},{"Range":6.6,"Doppler":18.9,"Gesture":"SwipeLeft"},{"Range":6.7,"Doppler":17.9,"Gesture":"SwipeLeft"},{"Range":6.7,"Doppler":18.2,"Gesture":"SwipeLeft"},
{"Range":6.8,"Doppler":17.7,"Gesture":"SwipeLeft"},{"Range":6.9,"Doppler":18.7,"Gesture":"SwipeLeft"},{"Range":7.0,"Doppler":18.0,"Gesture":"SwipeLeft"},{"Range":7.0,"Doppler":19.0,"Gesture":"SwipeLeft"},
{"Range":7.1,"Doppler":18.4,"Gesture":"SwipeLeft"},{"Range":7.2,"Doppler":17.9,"Gesture":"SwipeLeft"},{"Range":7.3,"Doppler":18.8,"Gesture":"SwipeLeft"},{"Range":7.4,"Doppler":18.2,"Gesture":"SwipeLeft"},
{"Range":7.5,"Doppler":18.6,"Gesture":"SwipeLeft"},{"Range":7.5,"Doppler":18.9,"Gesture":"SwipeLeft"},{"Range":7.6,"Doppler":18.4,"Gesture":"SwipeLeft"},{"Range":7.7,"Doppler":18.8,"Gesture":"SwipeLeft"},
{"Range":7.8,"Doppler":18.2,"Gesture":"SwipeLeft"},{"Range":7.9,"Doppler":19.0,"Gesture":"SwipeLeft"},{"Range":8.0,"Doppler":18.5,"Gesture":"SwipeLeft"},{"Range":8.1,"Doppler":19.2,"Gesture":"SwipeLeft"},
{"Range":8.2,"Doppler":18.6,"Gesture":"SwipeLeft"},{"Range":8.4,"Doppler":19.1,"Gesture":"SwipeLeft"},{"Range":8.5,"Doppler":18.8,"Gesture":"SwipeLeft"},{"Range":8.6,"Doppler":19.4,"Gesture":"SwipeLeft"},
{"Range":8.9,"Doppler":19.0,"Gesture":"SwipeLeft"},{"Range":9.1,"Doppler":18.9,"Gesture":"SwipeLeft"},{"Range":9.2,"Doppler":18.6,"Gesture":"SwipeLeft"},{"Range":5.4,"Doppler":17.5,"Gesture":"SwipeLeft"},
{"Range":5.7,"Doppler":18.0,"Gesture":"SwipeLeft"},{"Range":6.4,"Doppler":18.3,"Gesture":"SwipeLeft"},{"Range":6.9,"Doppler":18.9,"Gesture":"SwipeLeft"},{"Range":7.3,"Doppler":18.5,"Gesture":"SwipeLeft"}
      ]},
      "mark": {"type": "point", "filled": true, "size": 105, "opacity": 0.7, "stroke": "white", "strokeWidth": 0.8},
      "encoding": {
        "x": {"field": "Range", "type": "quantitative", "title": "Range", "scale": {"domain": [2.345, 16.755], "nice": false, "zero": false}, "axis": {"values": [4, 6, 8, 10, 12, 14, 16], "titlePadding": 6}},
        "y": {"field": "Doppler", "type": "quantitative", "title": "Doppler", "scale": {"domain": [14.275, 21.425], "nice": false, "zero": false}, "axis": {"values": [15, 16, 17, 18, 19, 20, 21], "titlePadding": 9}},
        "color": {"field": "Gesture", "type": "nominal", "scale": {"domain": ["Push", "SwipeDown", "SwipeUp", "SwipeRight", "SwipeLeft"], "range": ["#1f77b4", "#ff7f0e", "#2ca02c", "#d62728", "#9467bd"]},
          "legend": {"orient": "top-right", "offset": 9, "title": null, "labelFontSize": 18.5, "symbolType": "circle", "symbolSize": 100, "symbolOpacity": 0.75, "symbolStrokeColor": "white", "symbolStrokeWidth": 0.5, "labelOffset": 25, "rowPadding": 8, "padding": 9, "symbolOffset": 8, "fillColor": "rgba(255,255,255,0.85)", "strokeColor": "#d0d0d0", "cornerRadius": 4}}
      }
     },
     {"data": {"values": [{}]}, "mark": {"type": "rule", "color": "#ff0000", "strokeDash": [6, 3], "strokeWidth": 2}, "encoding": {"x": {"datum": 6.8}}},
     {"data": {"values": [{}]}, "mark": {"type": "text", "text": "IF Range <= 6.8,", "color": "#ff0000", "fontWeight": "bold", "fontSize": 21.5, "align": "left", "baseline": "middle", "dx": 3}, "encoding": {"x": {"datum": 6.8}, "y": {"datum": 15.73}}},
     {"data": {"values": [{}]}, "mark": {"type": "text", "text": "THEN Push", "color": "#ff0000", "fontWeight": "bold", "fontSize": 21.5, "align": "left", "baseline": "middle", "dx": 13}, "encoding": {"x": {"datum": 6.8}, "y": {"datum": 15.25}}},
     {"data": {"values": [{}]}, "mark": {"type": "text", "text": "Scatter Plot of User 12", "color": "#262626", "fontSize": 24.5, "align": "center", "baseline": "middle", "dy": -18}, "encoding": {"x": {"datum": 9.55}, "y": {"datum": 21.425}}},
     {"data": {"values": [{}]}, "mark": {"type": "text", "text": "b)", "color": "#111", "fontWeight": "bold", "fontSize": 22, "align": "left", "baseline": "middle", "dx": -105, "dy": -24}, "encoding": {"x": {"datum": 2.345}, "y": {"datum": 21.425}}}
    ]
   }
  ]
 },
 {
  "width": 752, "height": 346,
  "layer": [
   {
    "data": {"name": "stats", "values": [
      {"Feature": "Range", "Group": "Config 1", "lower": 4.87, "q1": 10.94, "median": 12.95, "q3": 15.06, "upper": 21.15},
      {"Feature": "Range", "Group": "User 12", "lower": 2.97, "q1": 3.14, "median": 3.63, "q3": 4.23, "upper": 5.88}
    ]},
    "mark": {"type": "rule", "color": "#555555", "strokeWidth": 2},
    "encoding": {
      "x": {"field": "Feature", "type": "nominal", "title": "Feature", "scale": {"paddingInner": 0, "paddingOuter": 0.129}, "axis": {"labelAngle": 0, "labelFontSize": 21, "titlePadding": 3}},
      "xOffset": {"field": "Group", "type": "nominal", "sort": ["Config 1", "User 12"], "scale": {"paddingInner": 0.02, "paddingOuter": 0}},
      "y": {"field": "lower", "type": "quantitative", "title": "Value", "scale": {"domain": [1.9, 24.15], "nice": false, "zero": false}, "axis": {"values": [2.5, 5, 7.5, 10, 12.5, 15, 17.5, 20, 22.5], "format": ".1f", "titlePadding": 7}},
      "y2": {"field": "upper"}
    }
   },
   {
    "data": {"name": "stats"},
    "mark": {"type": "tick", "size": 148, "thickness": 2.2, "color": "#555555"},
    "encoding": {"x": {"field": "Feature", "type": "nominal"}, "xOffset": {"field": "Group", "type": "nominal", "sort": ["Config 1", "User 12"]}, "y": {"field": "lower", "type": "quantitative", "title": "Value"}}
   },
   {
    "data": {"name": "stats"},
    "mark": {"type": "tick", "size": 148, "thickness": 2.2, "color": "#555555"},
    "encoding": {"x": {"field": "Feature", "type": "nominal"}, "xOffset": {"field": "Group", "type": "nominal", "sort": ["Config 1", "User 12"]}, "y": {"field": "upper", "type": "quantitative", "title": "Value"}}
   },
   {
    "data": {"name": "stats"},
    "mark": {"type": "bar", "stroke": "#555555", "strokeWidth": 2},
    "encoding": {
      "x": {"field": "Feature", "type": "nominal"},
      "xOffset": {"field": "Group", "type": "nominal", "sort": ["Config 1", "User 12"]},
      "y": {"field": "q1", "type": "quantitative", "title": "Value"},
      "y2": {"field": "q3"},
      "color": {"field": "Group", "type": "nominal", "scale": {"domain": ["Config 1", "User 12"], "range": ["#a2c962", "#eb926f"]},
        "legend": {"orient": "top-right", "offset": 9, "title": null, "labelFontSize": 21, "symbolType": "M-2.14,-0.76H2.14V0.76H-2.14Z", "symbolSize": 441, "symbolStrokeColor": "#555555", "symbolStrokeWidth": 1.5, "symbolOffset": 12, "labelOffset": 28, "rowPadding": 8, "padding": 7, "fillColor": "white", "strokeColor": "#d0d0d0", "cornerRadius": 4}}
    }
   },
   {
    "data": {"name": "stats"},
    "mark": {"type": "tick", "size": 296, "thickness": 2.5, "color": "#555555"},
    "encoding": {"x": {"field": "Feature", "type": "nominal"}, "xOffset": {"field": "Group", "type": "nominal", "sort": ["Config 1", "User 12"]}, "y": {"field": "median", "type": "quantitative", "title": "Value"}}
   },
   {
    "data": {"values": [
      {"Feature": "Range", "Group": "Config 1", "Value": 21.3}, {"Feature": "Range", "Group": "Config 1", "Value": 21.4}, {"Feature": "Range", "Group": "Config 1", "Value": 21.5},
      {"Feature": "Range", "Group": "Config 1", "Value": 21.6}, {"Feature": "Range", "Group": "Config 1", "Value": 21.7}, {"Feature": "Range", "Group": "Config 1", "Value": 21.8},
      {"Feature": "Range", "Group": "Config 1", "Value": 21.9}, {"Feature": "Range", "Group": "Config 1", "Value": 22.0}, {"Feature": "Range", "Group": "Config 1", "Value": 22.1},
      {"Feature": "Range", "Group": "Config 1", "Value": 22.2}, {"Feature": "Range", "Group": "Config 1", "Value": 22.3}, {"Feature": "Range", "Group": "Config 1", "Value": 22.4},
      {"Feature": "Range", "Group": "Config 1", "Value": 22.5}, {"Feature": "Range", "Group": "Config 1", "Value": 22.6}, {"Feature": "Range", "Group": "Config 1", "Value": 22.7},
      {"Feature": "Range", "Group": "Config 1", "Value": 22.8}, {"Feature": "Range", "Group": "Config 1", "Value": 22.9}, {"Feature": "Range", "Group": "Config 1", "Value": 23.0},
      {"Feature": "Range", "Group": "Config 1", "Value": 23.1}, {"Feature": "Range", "Group": "Config 1", "Value": 23.25},
      {"Feature": "Range", "Group": "Config 1", "Value": 4.75}, {"Feature": "Range", "Group": "Config 1", "Value": 4.65}, {"Feature": "Range", "Group": "Config 1", "Value": 4.55},
      {"Feature": "Range", "Group": "Config 1", "Value": 4.45}, {"Feature": "Range", "Group": "Config 1", "Value": 4.35}, {"Feature": "Range", "Group": "Config 1", "Value": 4.25},
      {"Feature": "Range", "Group": "Config 1", "Value": 4.15}, {"Feature": "Range", "Group": "Config 1", "Value": 4.05}, {"Feature": "Range", "Group": "Config 1", "Value": 3.95},
      {"Feature": "Range", "Group": "Config 1", "Value": 3.85}, {"Feature": "Range", "Group": "Config 1", "Value": 3.75}, {"Feature": "Range", "Group": "Config 1", "Value": 3.65},
      {"Feature": "Range", "Group": "Config 1", "Value": 3.55}, {"Feature": "Range", "Group": "Config 1", "Value": 3.45}, {"Feature": "Range", "Group": "Config 1", "Value": 3.35},
      {"Feature": "Range", "Group": "Config 1", "Value": 3.25}, {"Feature": "Range", "Group": "Config 1", "Value": 3.15}, {"Feature": "Range", "Group": "Config 1", "Value": 3.05},
      {"Feature": "Range", "Group": "Config 1", "Value": 2.95}, {"Feature": "Range", "Group": "Config 1", "Value": 2.85},
      {"Feature": "Range", "Group": "User 12", "Value": 5.99}, {"Feature": "Range", "Group": "User 12", "Value": 6.1}, {"Feature": "Range", "Group": "User 12", "Value": 6.2},
      {"Feature": "Range", "Group": "User 12", "Value": 6.35}, {"Feature": "Range", "Group": "User 12", "Value": 6.52}, {"Feature": "Range", "Group": "User 12", "Value": 6.8},
      {"Feature": "Range", "Group": "User 12", "Value": 7.16}, {"Feature": "Range", "Group": "User 12", "Value": 7.95}
    ]},
    "mark": {"type": "point", "shape": "diamond", "filled": true, "size": 60, "color": "#555555", "opacity": 1},
    "encoding": {"x": {"field": "Feature", "type": "nominal"}, "xOffset": {"field": "Group", "type": "nominal", "sort": ["Config 1", "User 12"]}, "y": {"field": "Value", "type": "quantitative", "title": "Value"}}
   },
   {"data": {"values": [{}]}, "mark": {"type": "text", "text": "Distribution of Range Feature for Push Class", "color": "#262626", "fontSize": 24.5, "align": "center", "baseline": "middle", "dy": -18}, "encoding": {"x": {"datum": "Range"}, "y": {"datum": 24.15}}},
   {"data": {"values": [{}]}, "mark": {"type": "text", "text": "c)", "color": "#111", "fontWeight": "bold", "fontSize": 22, "align": "left", "baseline": "middle", "dx": -481, "dy": -24}, "encoding": {"x": {"datum": "Range"}, "y": {"datum": 24.15}}}
  ]
 }
]
}
